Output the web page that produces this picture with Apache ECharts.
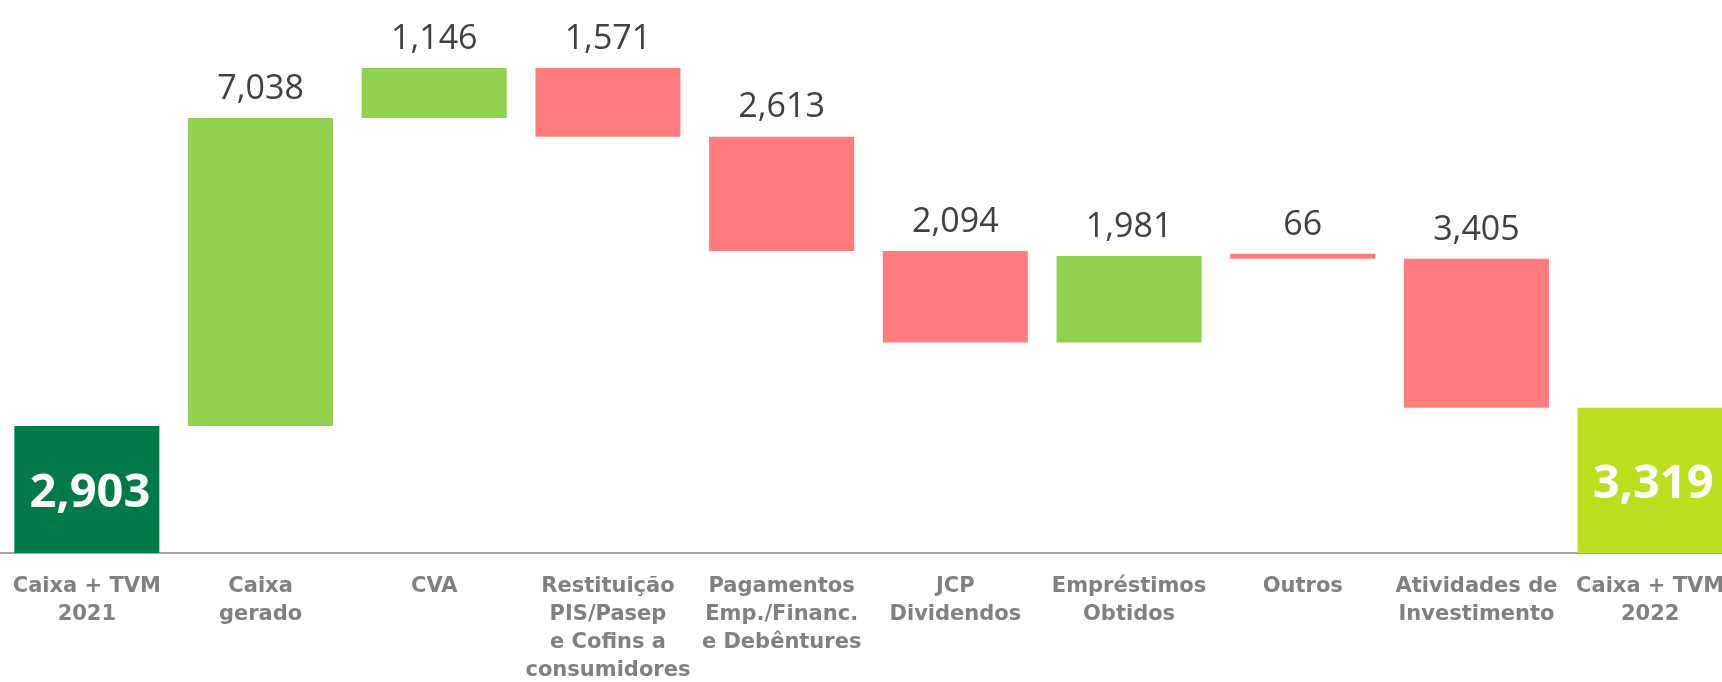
<!DOCTYPE html>
<html>
<head>
<meta charset="utf-8">
<script src="https://cdn.jsdelivr.net/npm/echarts@6/dist/echarts.min.js"></script>
<style>
  html, body { margin: 0; padding: 0; background: #fff; }
  #chart { width: 1722px; height: 682px; }
</style>
</head>
<body>
<div id="chart"></div>
<script>
// categorias do fluxo de caixa (R$ milhões)
const categories = [
    'Caixa + TVM\n2021',
    'Caixa\ngerado',
    'CVA',
    'Restituição\nPIS/Pasep\ne Cofins a\nconsumidores',
    'Pagamentos\nEmp./Financ.\ne Debêntures',
    'JCP\nDividendos',
    'Empréstimos\nObtidos',
    'Outros',
    'Atividades de\nInvestimento',
    'Caixa + TVM\n2022'
];
const startBalance = 2903;
// variações entre o saldo inicial e o final (negativo = saída)
const movements = [7038, 1146, -1571, -2613, -2094, 1981, -66, -3405];
const endBalance = 3319;

// monta as séries empilhadas do waterfall
const baseData = ['-'];
const upData = ['-'];
const downData = ['-'];
const totalData = [startBalance];
let running = startBalance;
movements.forEach(v => {
    if (v >= 0) {
        baseData.push(running);
        upData.push(v);
        downData.push('-');
        running += v;
    } else {
        running += v;
        baseData.push(running);
        upData.push('-');
        downData.push(-v);
    }
    totalData.push('-');
});
baseData.push('-');
upData.push('-');
downData.push('-');
totalData.push(endBalance);

const fmt = v => Number(v).toLocaleString('en-US');

const valueLabel = {
    show: true,
    position: 'top',
    distance: 12,
    color: '#404040',
    fontFamily: 'Open Sans',
    fontSize: 34,
    formatter: p => fmt(p.value)
};

const chart = echarts.init(document.getElementById('chart'));
const option = {
    animation: false,
    // a última coluna fica um pouco cortada na borda direita
    grid: { left: 0, top: 0, width: 1737, bottom: 129, outerBoundsMode: 'none' },
    xAxis: {
        type: 'category',
        data: categories,
        axisTick: { show: false },
        axisLine: { lineStyle: { color: '#a6a6a6', width: 2 } },
        axisLabel: {
            interval: 0,
            color: '#808080',
            fontFamily: 'DejaVu Sans',
            fontWeight: 'bold',
            fontSize: 21,
            lineHeight: 28,
            margin: 20
        }
    },
    yAxis: {
        type: 'value',
        min: 0,
        max: 12640,
        show: false,
        splitLine: { show: false }
    },
    series: [
        {
            name: 'base',
            type: 'bar',
            stack: 'w',
            barWidth: 145,
            itemStyle: { color: 'transparent' },
            emphasis: { disabled: true },
            data: baseData
        },
        {
            name: 'entrada',
            type: 'bar',
            stack: 'w',
            barWidth: 145,
            itemStyle: { color: '#92d050' },
            label: valueLabel,
            data: upData
        },
        {
            name: 'saída',
            type: 'bar',
            stack: 'w',
            barWidth: 145,
            barMinHeight: 5,
            itemStyle: { color: '#ff7c7e' },
            label: valueLabel,
            data: downData
        },
        {
            name: 'saldo',
            type: 'bar',
            stack: 'w',
            barWidth: 145,
            itemStyle: {
                color: p => p.dataIndex === 0 ? '#007a46' : '#bbdf1e'
            },
            label: {
                show: true,
                position: 'inside',
                offset: [3, 4],
                color: '#fff',
                fontFamily: 'Open Sans',
                fontWeight: 'bold',
                fontSize: 47,
                formatter: p => fmt(p.value)
            },
            data: totalData
        }
    ]
};
chart.setOption(option);
</script>
</body>
</html>
